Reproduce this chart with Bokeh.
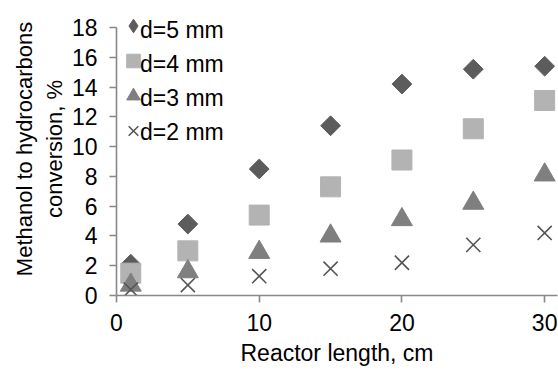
import math
from bokeh.plotting import figure
from bokeh.models import ColumnDataSource, Legend, LegendItem, FixedTicker, Range1d
from bokeh.embed import file_html
from bokeh.resources import INLINE

# data
length_cm = [1, 5, 10, 15, 20, 25, 30]
d5 = [2.1, 4.8, 8.5, 11.4, 14.2, 15.2, 15.4]
d4 = [1.5, 3.0, 5.4, 7.3, 9.1, 11.2, 13.1]
d3 = [0.7, 1.6, 2.9, 4.0, 5.1, 6.2, 8.1]
d2 = [0.4, 0.7, 1.3, 1.8, 2.2, 3.4, 4.2]
series_names = ["d=5 mm", "d=4 mm", "d=3 mm", "d=2 mm"]
x_ticks = [0, 10, 20, 30]
y_ticks = [0, 2, 4, 6, 8, 10, 12, 14, 16, 18]

FONT = "Liberation Sans"
AXIS_COL = "#888888"
C5, C4, C3, C2 = "#5c5c5c", "#b3b3b3", "#7f7f7f", "#555555"

p = figure(width=558, height=371, output_backend="svg", toolbar_location=None,
           x_range=Range1d(0, 30.9), y_range=Range1d(0, 19.68),
           min_border_left=116, min_border_right=1, min_border_top=2, min_border_bottom=76)
p.outline_line_color = None
p.grid.visible = False
p.background_fill_color = "white"

src = ColumnDataSource(dict(x=length_cm, d5=d5, d4=d4, d3=d3, d2=d2))

# narrow diamond drawn underneath (used for the legend symbol)
r5_leg = p.scatter("x", "d5", source=src, marker="diamond", size=12,
                   fill_color=C5, line_color=C5)
r5 = p.scatter("x", "d5", source=src, marker="square", angle=math.pi / 4, size=14,
               fill_color=C5, line_color=C5)
r4 = p.scatter("x", "d4", source=src, marker="square", size=20,
               fill_color=C4, line_color=C4)
r3 = p.scatter("x", "d3", source=src, marker="triangle", size=21,
               fill_color=C3, line_color=C3)
r2 = p.scatter("x", "d2", source=src, marker="x", size=20,
               line_color=C2, line_width=1.6)

for ax in (p.xaxis[0], p.yaxis[0]):
    ax.axis_line_color = AXIS_COL
    ax.axis_line_width = 1.6
    ax.major_tick_line_color = AXIS_COL
    ax.major_tick_line_width = 1.6
    ax.minor_tick_line_color = None
    ax.major_tick_in = 0
    ax.major_tick_out = 7
    ax.major_label_text_font = FONT
    ax.major_label_text_font_size = "23px"
    ax.major_label_text_color = "black"
    ax.axis_label_text_font = FONT
    ax.axis_label_text_font_size = "23px"
    ax.axis_label_text_font_style = "normal"
    ax.axis_label_text_color = "black"

p.yaxis.axis_label_text_font_size = "22px"
p.yaxis.bounds = (0, 18)
p.xaxis.ticker = FixedTicker(ticks=x_ticks)
p.yaxis.ticker = FixedTicker(ticks=y_ticks)
p.xaxis.major_label_standoff = 11
p.yaxis.major_label_standoff = 12
p.xaxis.axis_label = "Reactor length, cm"
p.yaxis.axis_label = "Methanol to hydrocarbons\nconversion, %"
p.xaxis.axis_label_standoff = 6
p.yaxis.axis_label_standoff = 2

leg_renderers = [r5_leg, r4, r3, r2]


def style(lg):
    lg.label_text_font = FONT
    lg.label_text_font_size = "23px"
    lg.label_text_color = "black"
    lg.label_standoff = 0
    lg.spacing = 0
    lg.padding = 0
    lg.margin = 0
    lg.border_line_color = None
    lg.background_fill_alpha = 0


# symbols of the legend
legend_sym = Legend(items=[LegendItem(label=" ", renderers=[r]) for r in leg_renderers],
                    location=(0, 147), orientation="vertical")
style(legend_sym)
legend_sym.glyph_width = 34
legend_sym.glyph_height = 35
legend_sym.label_height = 35
legend_sym.label_width = 1

# texts of the legend
legend_txt = Legend(items=[LegendItem(label=n, renderers=[r]) for n, r in
                           zip(series_names, leg_renderers)],
                    location=(24, 146), orientation="vertical")
style(legend_txt)
legend_txt.glyph_width = 0
legend_txt.glyph_height = 34
legend_txt.label_height = 34

p.add_layout(legend_sym, "center")
p.add_layout(legend_txt, "center")

open("out.html", "w").write(file_html(p, INLINE))
